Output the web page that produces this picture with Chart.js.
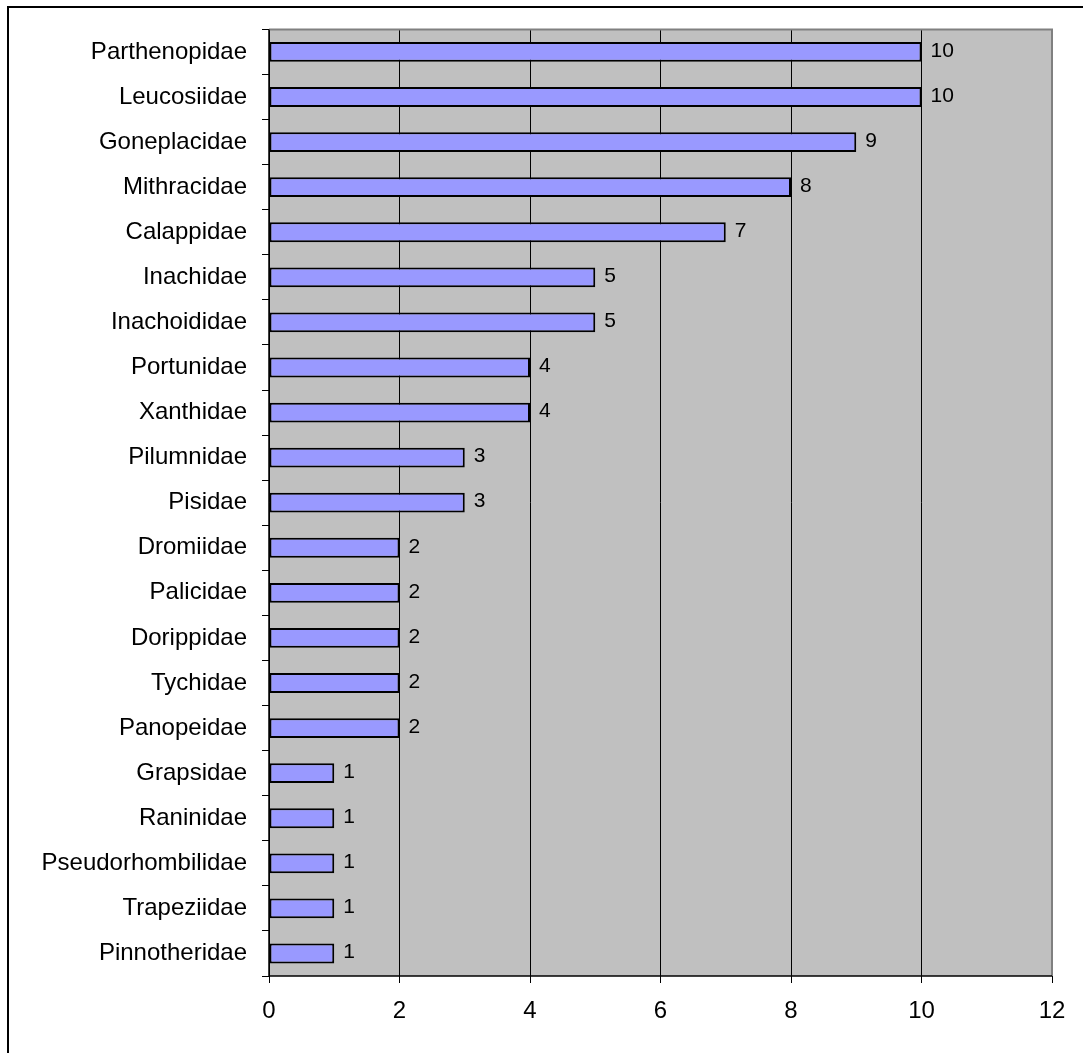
<!DOCTYPE html>
<html>
<head>
<meta charset="utf-8">
<script src="https://cdn.jsdelivr.net/npm/chart.js@4"></script>
<style>
  html, body { margin: 0; padding: 0; background: #fff; }
  #wrap { width: 1083px; height: 1053px; position: relative; }
</style>
</head>
<body>
<div id="wrap"><canvas id="crabs"></canvas></div>
<script>
const families = [
    'Parthenopidae', 'Leucosiidae', 'Goneplacidae', 'Mithracidae', 'Calappidae',
    'Inachidae', 'Inachoididae', 'Portunidae', 'Xanthidae', 'Pilumnidae',
    'Pisidae', 'Dromiidae', 'Palicidae', 'Dorippidae', 'Tychidae',
    'Panopeidae', 'Grapsidae', 'Raninidae', 'Pseudorhombilidae', 'Trapeziidae',
    'Pinnotheridae'
];
const speciesCount = [10, 10, 9, 8, 7, 5, 5, 4, 4, 3, 3, 2, 2, 2, 2, 2, 1, 1, 1, 1, 1];
const xTicks = [0, 2, 4, 6, 8, 10, 12];

const FONT = 'Liberation Sans, Arial, sans-serif';

// gray plot background, gray top/right border, outer frame
const plotFrame = {
    id: 'plotFrame',
    beforeDraw(chart) {
        const { ctx, chartArea: a } = chart;
        ctx.save();
        ctx.fillStyle = '#c0c0c0';
        ctx.fillRect(a.left, a.top, a.right - a.left, a.bottom - a.top);
        ctx.strokeStyle = '#000';
        ctx.lineWidth = 2;
        ctx.beginPath();
        ctx.moveTo(8, chart.height + 5);
        ctx.lineTo(8, 7);
        ctx.lineTo(chart.width + 5, 7);
        ctx.stroke();
        ctx.restore();
    },
    afterDatasetsDraw(chart) {
        const { ctx, chartArea: a } = chart;
        ctx.save();
        ctx.strokeStyle = '#808080';
        ctx.lineWidth = 2;
        ctx.beginPath();
        ctx.moveTo(a.left, a.top);
        ctx.lineTo(a.right, a.top);
        ctx.lineTo(a.right, a.bottom);
        ctx.stroke();
        ctx.strokeStyle = '#000';
        ctx.lineWidth = 1.5;
        ctx.beginPath();
        ctx.moveTo(a.left, a.top);
        ctx.lineTo(a.left, a.bottom);
        ctx.lineTo(a.right, a.bottom);
        ctx.stroke();
        ctx.restore();
    }
};

const valueLabels = {
    id: 'valueLabels',
    afterDatasetsDraw(chart) {
        const { ctx } = chart;
        const meta = chart.getDatasetMeta(0);
        ctx.save();
        ctx.fillStyle = '#000';
        ctx.font = '21px ' + FONT;
        ctx.textBaseline = 'middle';
        ctx.textAlign = 'left';
        meta.data.forEach((bar, i) => {
            ctx.fillText(String(speciesCount[i]), bar.x + 9, bar.y - 1);
        });
        ctx.restore();
    }
};

const ctx = document.getElementById('crabs').getContext('2d');
new Chart(ctx, {
    type: 'bar',
    data: {
        labels: families,
        datasets: [{
            data: speciesCount,
            backgroundColor: '#9999ff',
            borderColor: '#000',
            borderWidth: 2,
            borderSkipped: false,
            barPercentage: 0.44,
            categoryPercentage: 1
        }]
    },
    options: {
        indexAxis: 'y',
        responsive: true,
        maintainAspectRatio: false,
        animation: false,
        layout: { padding: { top: 28, right: 31, left: 0, bottom: 0 } },
        plugins: {
            legend: { display: false },
            tooltip: { enabled: false }
        },
        scales: {
            x: {
                min: 0,
                max: 12,
                afterBuildTicks: (axis) => { axis.ticks = xTicks.map(v => ({ value: v })); },
                afterFit: (axis) => { axis.height = 77; },
                grid: {
                    color: '#000',
                    lineWidth: 1,
                    tickLength: 7,
                    tickColor: '#000'
                },
                border: { display: false },
                ticks: {
                    color: '#000',
                    font: { family: FONT, size: 24 },
                    padding: 14
                }
            },
            y: {
                offset: true,
                afterFit: (axis) => { axis.width = 269; },
                grid: {
                    offset: true,
                    drawOnChartArea: false,
                    tickLength: 7,
                    tickColor: '#000'
                },
                border: { display: false },
                ticks: {
                    color: '#000',
                    font: { family: FONT, size: 24 },
                    padding: 15
                }
            }
        }
    },
    plugins: [plotFrame, valueLabels]
});
</script>
</body>
</html>
